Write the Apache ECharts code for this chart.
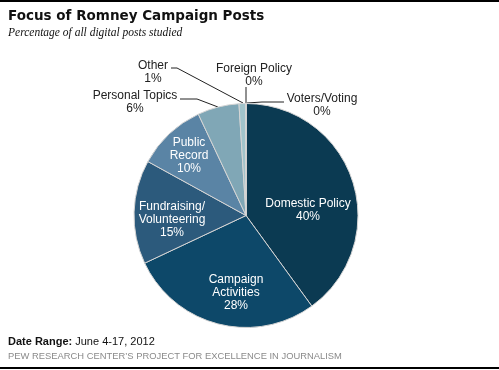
<!DOCTYPE html>
<html>
<head>
<meta charset="utf-8">
<script src="https://cdn.jsdelivr.net/npm/echarts@6/dist/echarts.min.js"></script>
<style>
html,body{margin:0;padding:0;background:#fff;}
#chart{width:499px;height:370px;}
</style>
</head>
<body>
<div id="chart"></div>
<script>
// ---- data ----
const categories = ['Domestic Policy', 'Campaign Activities', 'Fundraising/ Volunteering', 'Public Record', 'Personal Topics', 'Other', 'Foreign Policy', 'Voters/Voting'];
const labelTexts = ['Domestic Policy', 'Campaign\nActivities', 'Fundraising/\nVolunteering', 'Public\nRecord', 'Personal Topics', 'Other', 'Foreign Policy', 'Voters/Voting'];
const values = [40, 28, 15, 10, 6, 1, 0, 0];
const titleText = 'Focus of Romney Campaign Posts';
const subtitleText = 'Percentage of all digital posts studied';
const dateLabel = 'Date Range:';
const dateText = 'June 4-17, 2012';
const sourceText = 'PEW RESEARCH CENTER\u2019S PROJECT FOR EXCELLENCE IN JOURNALISM';

// ---- styling ----
const colors = ['#0b3a52', '#0d4869', '#2c5a7c', '#5a84a5', '#80a7b6', '#a2c4cb', '#b9d2d8', '#c8dce0'];
const insideCount = 4;
// label anchor positions (px) for each slice label, and leader line routes for outside ones
const labelPos = [[308, 210], [236, 293], [172, 220], [189, 156], [135, 102], [153, 72], [254, 75], [322, 105]];
const leaderLines = {
  4: [[218, 107], [197, 99], [180, 99]],
  5: [[243, 103], [177, 68], [171, 68]],
  6: [[246, 103], [246, 95], [246, 87]],
  7: [[247, 103], [262, 102], [284, 102]]
};

const chart = echarts.init(document.getElementById('chart'), null, {renderer: 'canvas'});
const labelFont = 'Liberation Sans';

const data = categories.map((name, i) => ({
  name: name,
  value: values[i],
  itemStyle: {color: colors[i]},
  label: i < insideCount
    ? {show: true, position: 'inside', color: '#ffffff',
       formatter: labelTexts[i] + '\n' + values[i] + '%'}
    : {show: true, position: 'outside', color: '#222222',
       formatter: labelTexts[i] + '\n' + values[i] + '%'},
  labelLine: {show: i >= insideCount, lineStyle: {color: '#222222', width: 1}}
}));

chart.setOption({
  animation: false,
  title: {
    text: titleText,
    subtext: subtitleText,
    left: 8,
    top: 9,
    padding: 0,
    itemGap: 4,
    textStyle: {fontFamily: 'DejaVu Sans', fontWeight: 'bold', fontSize: 13.5, color: '#111111'},
    subtextStyle: {fontFamily: 'Liberation Serif', fontStyle: 'italic', fontSize: 11.5, color: '#111111'}
  },
  series: [{
    type: 'pie',
    center: [246, 215.5],
    radius: 112,
    startAngle: 90,
    clockwise: true,
    avoidLabelOverlap: false,
    stillShowZeroSum: true,
    minAngle: 0,
    itemStyle: {borderColor: '#d4d4d4', borderWidth: 1},
    label: {fontFamily: labelFont, fontSize: 12, lineHeight: 13, align: 'center'},
    labelLine: {smooth: false},
    labelLayout: function (params) {
      const i = params.dataIndex;
      const res = {x: labelPos[i][0], y: labelPos[i][1], align: 'center', verticalAlign: 'middle'};
      if (leaderLines[i]) res.labelLinePoints = leaderLines[i];
      return res;
    },
    emphasis: {disabled: true},
    data: data
  }],
  graphic: [
    {type: 'rect', shape: {x: 0, y: 0, width: 499, height: 2}, style: {fill: '#000000'}},
    {type: 'rect', shape: {x: 0, y: 367, width: 499, height: 2}, style: {fill: '#000000'}},
    {type: 'text', left: 8, top: 336, style: {
      text: '{b|' + dateLabel + '} ' + dateText,
      font: '11px Liberation Sans', fill: '#111111',
      rich: {b: {fontWeight: 'bold', fontFamily: 'Liberation Sans', fontSize: 11, fill: '#111111'}}
    }},
    {type: 'text', left: 8, top: 352, style: {
      text: sourceText, font: '9.4px Liberation Sans', fill: '#8a8a8a'
    }}
  ]
});
</script>
</body>
</html>
